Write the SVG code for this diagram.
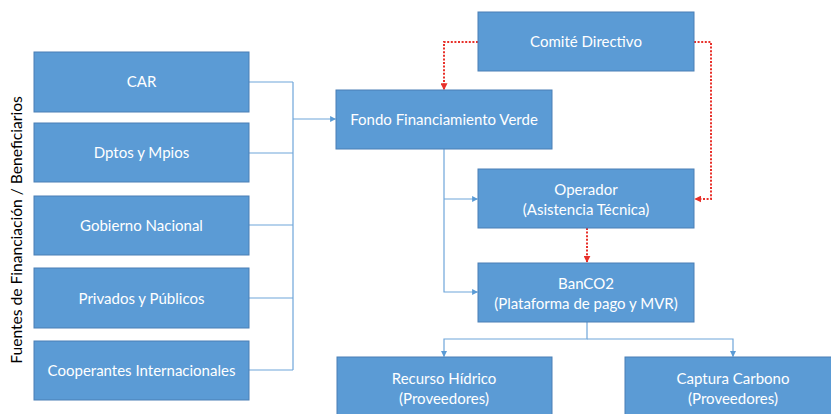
<svg xmlns="http://www.w3.org/2000/svg" width="831" height="414" viewBox="0 0 831 414">
<style>
.box{fill:#5B9BD5;stroke:#4A7FB5;stroke-width:1}
.t{font-family:Lato,"Open Sans","Liberation Sans",sans-serif;font-size:15px;fill:#FFFFFF;text-anchor:middle}
.c{fill:none;stroke:#6FA6DA;stroke-width:1.2}
.r{fill:none;stroke:#E8302A;stroke-width:2;stroke-dasharray:2 1.6}
.side{font-family:Lato,"Open Sans","Liberation Sans",sans-serif;font-size:15.6px;fill:#000000;text-anchor:middle}
</style>
<defs>
<marker id="ab" viewBox="0 0 10 10" refX="9" refY="5" markerWidth="6" markerHeight="6" orient="auto" markerUnits="userSpaceOnUse">
<path d="M0,0 L10,5 L0,10 z" fill="#5B9BD5"/>
</marker>
<marker id="ar" viewBox="0 0 10 10" refX="9" refY="5" markerWidth="7" markerHeight="7" orient="auto" markerUnits="userSpaceOnUse">
<path d="M0,0 L10,5 L0,10 z" fill="#E8302A"/>
</marker>
</defs>
<rect width="831" height="414" fill="#FFFFFF"/>
<text class="side" transform="translate(22,230) rotate(-90)">Fuentes de Financiación / Beneficiarios</text>
<g id="connectors">
<path class="c" d="M249,82 H293 M249,153 H293 M249,225 H293 M249,298 H293 M249,370 H293 M293,82 V370"/>
<path class="c" d="M293,119 H335.5" marker-end="url(#ab)"/>
<path class="c" d="M444,149 V292 H477.5" marker-end="url(#ab)"/>
<path class="c" d="M444,199 H477.5" marker-end="url(#ab)"/>
<path class="c" d="M587,322 V339 H444 V356.5" marker-end="url(#ab)"/>
<path class="c" d="M587,339 H733 V356.5" marker-end="url(#ab)"/>
<path class="r" d="M478,42 H444 V89.5" marker-end="url(#ar)"/>
<path class="r" d="M694,42 H711 V199 H695" marker-end="url(#ar)"/>
<path class="r" d="M587,228 V262" marker-end="url(#ar)"/>
</g>
<g id="car"><rect class="box" x="34" y="52" width="215" height="60"/><text class="t" x="141.5" y="87">CAR</text></g>
<g id="dptos"><rect class="box" x="34" y="123" width="215" height="59"/><text class="t" x="141.5" y="158">Dptos y Mpios</text></g>
<g id="gobierno"><rect class="box" x="34" y="196" width="215" height="59"/><text class="t" x="141.5" y="231">Gobierno Nacional</text></g>
<g id="privados"><rect class="box" x="34" y="268" width="215" height="60"/><text class="t" x="141.5" y="303.5">Privados y Públicos</text></g>
<g id="cooperantes"><rect class="box" x="34" y="341" width="215" height="59"/><text class="t" x="141.5" y="376">Cooperantes Internacionales</text></g>
<g id="fondo"><rect class="box" x="336" y="90" width="216" height="59"/><text class="t" x="444" y="125">Fondo Financiamiento Verde</text></g>
<g id="comite"><rect class="box" x="478" y="12" width="216" height="59"/><text class="t" x="586" y="47">Comité Directivo</text></g>
<g id="operador"><rect class="box" x="478" y="169" width="216" height="59"/><text class="t" x="586" y="195">Operador</text><text class="t" x="586" y="215">(Asistencia Técnica)</text></g>
<g id="banco2"><rect class="box" x="478" y="263" width="216" height="59"/><text class="t" x="586" y="289">BanCO2</text><text class="t" x="586" y="309">(Plataforma de pago y MVR)</text></g>
<g id="recurso"><rect class="box" x="337" y="357" width="215" height="70"/><text class="t" x="444" y="384">Recurso Hídrico</text><text class="t" x="444" y="404">(Proveedores)</text></g>
<g id="captura"><rect class="box" x="625" y="357" width="216" height="70"/><text class="t" x="733" y="384">Captura Carbono</text><text class="t" x="733" y="404">(Proveedores)</text></g>
</svg>
